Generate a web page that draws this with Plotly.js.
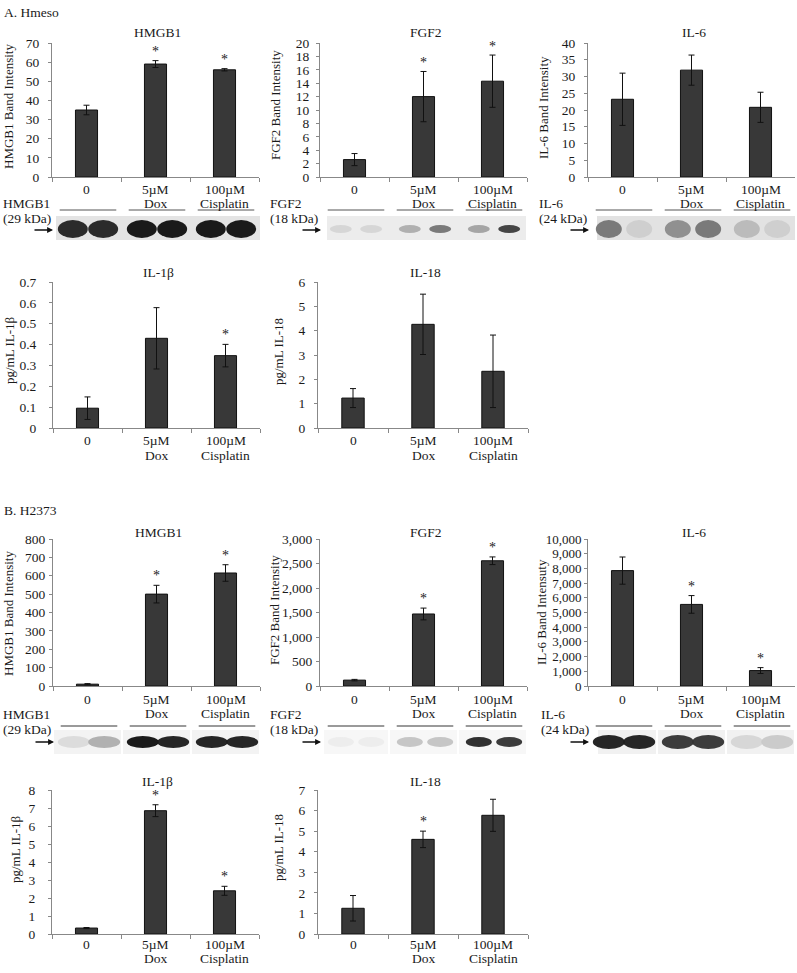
<!DOCTYPE html>
<html>
<head>
<meta charset="utf-8">
<script src="https://cdn.plot.ly/plotly-3.0.1.min.js"></script>
<style>html,body{margin:0;padding:0;background:#fff}#chart{width:797px;height:973px}</style>
</head>
<body>
<div id="chart"></div>
<script>
// ---------------- DATA ----------------
const categories = ['0', '5µM<br>Dox', '100µM<br>Cisplatin'];

// A. Hmeso
const hmesoHMGB1 = [35, 59, 56];
const hmesoHMGB1Err = [2.5, 1.8, 0.6];
const hmesoHMGB1Sig = [false, true, true];

const hmesoFGF2 = [2.6, 12.0, 14.3];
const hmesoFGF2Err = [0.9, 3.75, 3.9];
const hmesoFGF2Sig = [false, true, true];

const hmesoIL6 = [23.2, 31.9, 20.8];
const hmesoIL6Err = [7.8, 4.5, 4.5];
const hmesoIL6Sig = [false, false, false];

const hmesoIL1b = [0.095, 0.43, 0.347];
const hmesoIL1bErr = [0.054, 0.147, 0.054];
const hmesoIL1bSig = [false, false, true];

const hmesoIL18 = [1.23, 4.26, 2.33];
const hmesoIL18Err = [0.39, 1.24, 1.49];
const hmesoIL18Sig = [false, false, false];

// B. H2373
const h2373HMGB1 = [10, 500, 615];
const h2373HMGB1Err = [3, 48, 45];
const h2373HMGB1Sig = [false, true, true];

const h2373FGF2 = [120, 1470, 2556];
const h2373FGF2Err = [15, 120, 78];
const h2373FGF2Sig = [false, true, true];

const h2373IL6 = [7850, 5550, 1050];
const h2373IL6Err = [925, 600, 200];
const h2373IL6Sig = [false, true, true];

const h2373IL1b = [0.33, 6.85, 2.4];
const h2373IL1bErr = [0.03, 0.33, 0.25];
const h2373IL1bSig = [false, true, true];

const h2373IL18 = [1.25, 4.6, 5.77];
const h2373IL18Err = [0.62, 0.4, 0.78];
const h2373IL18Sig = [false, true, true];

// Western blot band darkness (0 = none, 1 = black), two lanes per treatment
const blotHmesoHMGB1 = [0.92, 0.92, 1, 1, 1, 1];
const blotHmesoFGF2 = [0.12, 0.12, 0.3, 0.55, 0.35, 0.8];
const blotHmesoIL6 = [0.55, 0.15, 0.45, 0.55, 0.25, 0.15];
const blotH2373HMGB1 = [0.1, 0.3, 1, 0.95, 0.95, 0.95];
const blotH2373FGF2 = [0.02, 0.02, 0.2, 0.2, 0.9, 0.85];
const blotH2373IL6 = [0.95, 0.95, 0.85, 0.85, 0.12, 0.18];

// ---------------- LAYOUT HELPERS ----------------
const W = 797, H = 973;
const fx = p => p / W;
const fy = p => 1 - p / H;
const FONT = 'Liberation Serif';
const TXT = '#1a1a1a';
const TICK = 13.5;

const panels = [
  {mean: hmesoHMGB1, err: hmesoHMGB1Err, sig: hmesoHMGB1Sig, title: 'HMGB1', ytitle: 'HMGB1 Band Intensity',
   ymax: 70, dtick: 10, fmt: '', x: [52, 259], y: [43, 177], ty: 33, ytx: 8, yty: 107, so: 6, lab: [13, 27], tf: TICK},
  {mean: hmesoFGF2, err: hmesoFGF2Err, sig: hmesoFGF2Sig, title: 'FGF2', ytitle: 'FGF2 Band Intensity',
   ymax: 20, dtick: 2, fmt: '', x: [320, 527], y: [43, 177], ty: 33, ytx: 275, yty: 105, so: 4, lab: [13, 27], tf: TICK},
  {mean: hmesoIL6, err: hmesoIL6Err, sig: hmesoIL6Sig, title: 'IL-6', ytitle: 'IL-6 Band Intensity',
   ymax: 40, dtick: 5, fmt: '', x: [588, 795], y: [43, 177], ty: 33, ytx: 544, yty: 108, so: 6, lab: [13, 27], tf: TICK},
  {mean: hmesoIL1b, err: hmesoIL1bErr, sig: hmesoIL1bSig, title: 'IL-1β', ytitle: 'pg/mL IL-1β',
   ymax: 0.7, dtick: 0.1, fmt: '', x: [53, 260], y: [282, 428], ty: 272, ytx: 9, yty: 350, so: 10, lab: [12, 27], tf: TICK},
  {mean: hmesoIL18, err: hmesoIL18Err, sig: hmesoIL18Sig, title: 'IL-18', ytitle: 'pg/mL IL-18',
   ymax: 6, dtick: 1, fmt: '', x: [318, 528], y: [282, 428], ty: 272, ytx: 278, yty: 352, so: 6, lab: [12, 27], tf: TICK},
  {mean: h2373HMGB1, err: h2373HMGB1Err, sig: h2373HMGB1Sig, title: 'HMGB1', ytitle: 'HMGB1 Band Intensity',
   ymax: 800, dtick: 100, fmt: '', x: [53, 260], y: [539, 686], ty: 532, ytx: 8, yty: 614, so: 1, lab: [13, 27], tf: TICK},
  {mean: h2373FGF2, err: h2373FGF2Err, sig: h2373FGF2Sig, title: 'FGF2', ytitle: 'FGF2 Band Intensity',
   ymax: 3000, dtick: 500, fmt: ',', x: [320, 527], y: [539, 686], ty: 532, ytx: 274, yty: 610, so: 1, lab: [13, 27], tf: TICK},
  {mean: h2373IL6, err: h2373IL6Err, sig: h2373IL6Sig, title: 'IL-6', ytitle: 'IL-6 Band Intensuty',
   ymax: 10000, dtick: 1000, fmt: ',', x: [588, 795], y: [539, 686], ty: 532, ytx: 541, yty: 612, so: 0, lab: [13, 27], tf: 13},
  {mean: h2373IL1b, err: h2373IL1bErr, sig: h2373IL1bSig, title: 'IL-1β', ytitle: 'pg/mL IL-1β',
   ymax: 8, dtick: 1, fmt: '', x: [52, 259], y: [790, 934], ty: 781, ytx: 15, yty: 849, so: 10, lab: [10, 24], tf: TICK},
  {mean: h2373IL18, err: h2373IL18Err, sig: h2373IL18Sig, title: 'IL-18', ytitle: 'pg/mL IL-18',
   ymax: 7, dtick: 1, fmt: '', x: [318, 528], y: [790, 934], ty: 781, ytx: 278, yty: 848, so: 6, lab: [10, 24], tf: TICK}
];

const traces = [];
const layout = {
  width: W, height: H,
  margin: {l: 0, r: 0, t: 0, b: 0},
  paper_bgcolor: '#fff', plot_bgcolor: '#fff',
  showlegend: false,
  font: {family: FONT, color: TXT, size: 14},
  annotations: [], shapes: []
};

panels.forEach((p, i) => {
  const n = i + 1;
  const xa = 'x' + n, ya = 'y' + n;
  traces.push({
    type: 'bar', x: categories, y: p.mean, xaxis: xa, yaxis: ya, width: 0.32,
    marker: {color: '#383838', line: {color: '#111', width: 1}},
    error_y: {type: 'data', array: p.err, visible: true, color: '#111', thickness: 1, width: 3},
    hoverinfo: 'skip'
  });
  layout['xaxis' + n] = {
    domain: [fx(p.x[0]), fx(p.x[1])], anchor: ya, type: 'category',
    categoryorder: 'array', categoryarray: categories, range: [-0.5, 2.5],
    showline: true, linecolor: '#888', linewidth: 1, ticks: 'outside', tickson: 'boundaries',
    ticklen: 4, tickcolor: '#888', showgrid: false, zeroline: false, fixedrange: true,
    showticklabels: false
  };
  layout['yaxis' + n] = {
    domain: [fy(p.y[1]), fy(p.y[0])], anchor: xa, range: [0, p.ymax],
    dtick: p.dtick, tick0: 0, tickformat: p.fmt,
    showline: true, linecolor: '#888', linewidth: 1, ticks: 'outside', ticklen: 3,
    tickcolor: '#888', showgrid: false, zeroline: false, fixedrange: true,
    ticklabelstandoff: p.so,
    tickfont: {family: FONT, size: p.tf, color: TXT}
  };
  // category labels (two lines, tight spacing)
  categories.forEach((c, k) => {
    c.split('<br>').forEach((line, j) => {
      layout.annotations.push({
        xref: xa, yref: 'paper', x: c, y: fy(p.y[1] + p.lab[j]),
        xanchor: 'center', yanchor: 'middle', showarrow: false, text: line,
        font: {family: FONT, size: TICK, color: TXT}
      });
    });
  });
  // chart title
  layout.annotations.push({
    xref: 'paper', yref: 'paper', x: fx((p.x[0] + p.x[1]) / 2 + 2), y: fy(p.ty),
    xanchor: 'center', yanchor: 'middle', showarrow: false, text: p.title,
    font: {family: FONT, size: 13.5, color: TXT}
  });
  // y-axis title
  layout.annotations.push({
    xref: 'paper', yref: 'paper', x: fx(p.ytx), y: fy(p.yty), textangle: -90,
    xanchor: 'center', yanchor: 'middle', showarrow: false, text: p.ytitle,
    font: {family: FONT, size: 13, color: TXT}
  });
  // significance stars
  p.sig.forEach((s, k) => {
    if (!s) return;
    layout.annotations.push({
      xref: xa, yref: ya, x: categories[k], y: p.mean[k] + p.err[k] + 0.065 * p.ymax,
      xanchor: 'center', yanchor: 'middle', showarrow: false, text: '*',
      font: {family: FONT, size: 14, color: TXT}
    });
  });
});

// section labels
layout.annotations.push({xref: 'paper', yref: 'paper', x: fx(2), y: fy(12), xanchor: 'left', yanchor: 'middle',
  showarrow: false, text: 'A. Hmeso', font: {family: FONT, size: 13.5, color: TXT}});
layout.annotations.push({xref: 'paper', yref: 'paper', x: fx(2), y: fy(510), xanchor: 'left', yanchor: 'middle',
  showarrow: false, text: 'B. H2373', font: {family: FONT, size: 13.5, color: TXT}});

// ---------------- WESTERN BLOT STRIPS ----------------
const rows = {
  A: {l1: 203, l2: 218, lineY: 210, lineColor: '#555', lineW: 1, top: 216, bot: 240, bandY: 229, arrowY: 230},
  B: {l1: 714, l2: 729, lineY: 726, lineColor: '#9a9a9a', lineW: 2, top: 730, bot: 754, bandY: 742, arrowY: 742}
};
const blots = [
  {panel: 0, row: 'A', name: 'HMGB1', kda: '(29 kDa)', lx: 1, strip: [56, 260], split: false, bg: '#e4e4e4', bands: blotHmesoHMGB1, hh: 9, hw: 15},
  {panel: 1, row: 'A', name: 'FGF2', kda: '(18 kDa)', lx: 268, strip: [327, 526], split: false, bg: '#ececec', bands: blotHmesoFGF2, hh: 4, hw: 11},
  {panel: 2, row: 'A', name: 'IL-6', kda: '(24 kDa)', lx: 537, strip: [597, 795], split: false, bg: '#e2e2e2', bands: blotHmesoIL6, hh: 9, hw: 13},
  {panel: 5, row: 'B', name: 'HMGB1', kda: '(29 kDa)', lx: 1, strip: [54, 261], split: true, bg: '#f3f3f3', bands: blotH2373HMGB1, hh: 6, hw: 16},
  {panel: 6, row: 'B', name: 'FGF2', kda: '(18 kDa)', lx: 268, strip: [324, 529], split: true, bg: '#f7f7f7', bands: blotH2373FGF2, hh: 5, hw: 13},
  {panel: 7, row: 'B', name: 'IL-6', kda: '(24 kDa)', lx: 539, strip: [598, 797], split: true, bg: '#f1f1f1', bands: blotH2373IL6, hh: 7, hw: 16}
];
const gray = v => { const g = Math.round(240 - v * 225); return 'rgb(' + g + ',' + g + ',' + g + ')'; };

blots.forEach(b => {
  const r = rows[b.row];
  const p = panels[b.panel];
  const cw = (p.x[1] - p.x[0]) / 3;
  layout.annotations.push({xref: 'paper', yref: 'paper', x: fx(b.lx), y: fy(r.l1), xanchor: 'left', yanchor: 'middle',
    showarrow: false, text: b.name, font: {family: FONT, size: 13.5, color: TXT}});
  layout.annotations.push({xref: 'paper', yref: 'paper', x: fx(b.lx), y: fy(r.l2), xanchor: 'left', yanchor: 'middle',
    showarrow: false, text: b.kda, font: {family: FONT, size: 13.5, color: TXT}});
  layout.annotations.push({xref: 'paper', yref: 'paper', x: fx(p.x[0] + 1), y: fy(r.arrowY), ax: -20, ay: 0,
    showarrow: true, arrowhead: 2, arrowsize: 0.9, arrowwidth: 1.3, arrowcolor: '#111', text: ''});
  if (b.split) {
    for (let g = 0; g < 3; g++) {
      const x0 = Math.max(b.strip[0], p.x[0] + g * cw + 1), x1 = Math.min(b.strip[1], p.x[0] + (g + 1) * cw - 1);
      layout.shapes.push({type: 'rect', xref: 'paper', yref: 'paper', x0: fx(x0), x1: fx(x1), y0: fy(r.bot), y1: fy(r.top),
        line: {width: 0}, fillcolor: b.bg, layer: 'below'});
    }
  } else {
    layout.shapes.push({type: 'rect', xref: 'paper', yref: 'paper', x0: fx(b.strip[0]), x1: fx(b.strip[1]), y0: fy(r.bot), y1: fy(r.top),
      line: {width: 0}, fillcolor: b.bg, layer: 'below'});
  }
  for (let g = 0; g < 3; g++) {
    const c = p.x[0] + (g + 0.5) * cw + 1.5;
    layout.shapes.push({type: 'line', xref: 'paper', yref: 'paper', x0: fx(c - 0.41 * cw), x1: fx(c + 0.41 * cw),
      y0: fy(r.lineY), y1: fy(r.lineY), line: {color: r.lineColor, width: r.lineW}});
    [-1, 1].forEach((s, k) => {
      const v = b.bands[g * 2 + k];
      const lc = c + s * 0.22 * cw;
      layout.shapes.push({type: 'circle', xref: 'paper', yref: 'paper',
        x0: fx(lc - b.hw), x1: fx(lc + b.hw), y0: fy(r.bandY + b.hh), y1: fy(r.bandY - b.hh),
        line: {width: 0}, fillcolor: gray(v), opacity: 0.95});
    });
  }
});

Plotly.newPlot('chart', traces, layout, {displayModeBar: false, staticPlot: true});
</script>
</body>
</html>
